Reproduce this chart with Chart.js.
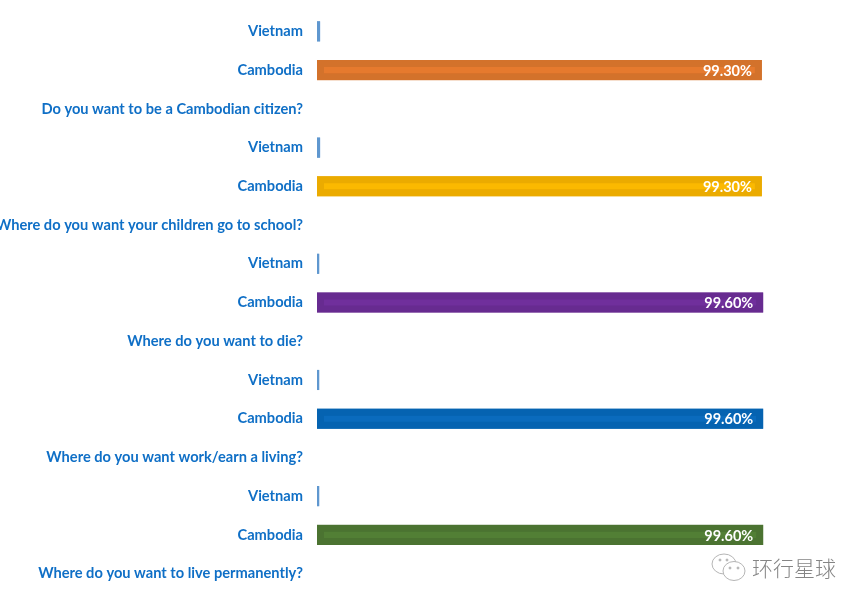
<!DOCTYPE html>
<html>
<head>
<meta charset="utf-8">
<script src="https://cdn.jsdelivr.net/npm/chart.js@4"></script>
<style>
    html, body { margin: 0; padding: 0; background: #fff; overflow: hidden; }
    #wrap { position: relative; width: 864px; height: 606px; }
    #mark { position: absolute; left: 752px; top: 555px; font: 300 21px "Noto Sans CJK SC"; line-height: 24px; color: #858585; }
    #wechat { position: absolute; left: 711px; top: 553px; }
</style>
</head>
<body>
<div id="wrap">
    <canvas id="bars" width="864" height="606"></canvas>
    <svg id="wechat" width="36" height="30" viewBox="0 0 36 30" fill="#fff" stroke="#b5b5b5" stroke-width="1">
        <ellipse cx="13" cy="11" rx="12" ry="10"/>
        <ellipse cx="23" cy="18" rx="11" ry="9.5"/>
        <circle cx="19" cy="15" r="1" fill="#b5b5b5"/>
        <circle cx="27" cy="15" r="1" fill="#b5b5b5"/>
        <circle cx="9" cy="7" r="1" fill="#b5b5b5"/>
        <circle cx="16" cy="7" r="1" fill="#b5b5b5"/>
    </svg>
    <div id="mark">环行星球</div>
</div>
<script>
const categories = [
    'Vietnam', 'Cambodia', 'Do you want to be a Cambodian citizen?',
    'Vietnam', 'Cambodia', 'Where do you want your children go to school?',
    'Vietnam', 'Cambodia', 'Where do you want to die?',
    'Vietnam', 'Cambodia', 'Where do you want work/earn a living?',
    'Vietnam', 'Cambodia', 'Where do you want to live permanently?'
];
const values = [0.7, 99.3, null, 0.7, 99.3, null, 0.5, 99.6, null, 0.5, 99.6, null, 0.5, 99.6, null];

const vietnamBlue = '#5f97cf';
const edgeColours = [vietnamBlue, '#d3722b', null, vietnamBlue, '#ebab00', null, vietnamBlue, '#672b90', null, vietnamBlue, '#0563b1', null, vietnamBlue, '#4b7331', null];
const fillColours = [vietnamBlue, '#e67a2e', null, vietnamBlue, '#fbb900', null, vietnamBlue, '#702f9c', null, vietnamBlue, '#0a6bbd', null, vietnamBlue, '#527f35', null];

// dark layer under each bar so no white shows between border and fill
const barUnderlay = {
    id: 'barUnderlay',
    beforeDatasetsDraw(chart) {
        const c = chart.ctx;
        chart.getDatasetMeta(0).data.forEach((bar, i) => {
            if (values[i] !== null) {
                c.fillStyle = edgeColours[i];
                c.fillRect(bar.base, bar.y - bar.height / 2, bar.x - bar.base, bar.height);
            }
        });
    }
};

// percentage text inside the big bars
const barLabels = {
    id: 'barLabels',
    afterDatasetsDraw(chart) {
        const c = chart.ctx;
        const meta = chart.getDatasetMeta(0);
        c.save();
        c.font = 'bold 14.5px Lato';
        c.fillStyle = '#fff';
        c.textAlign = 'right';
        c.textBaseline = 'middle';
        meta.data.forEach((bar, i) => {
            if (values[i] > 50) {
                c.fillText(values[i].toFixed(2) + '%', bar.x - 10, bar.y + 1);
            }
        });
        c.restore();
    }
};

new Chart(document.getElementById('bars').getContext('2d'), {
    type: 'bar',
    data: {
        labels: categories,
        datasets: [{
            data: values,
            backgroundColor: fillColours,
            borderColor: edgeColours,
            borderWidth: 7,
            borderSkipped: false,
            categoryPercentage: 0.52,
            barPercentage: 1
        }]
    },
    options: {
        indexAxis: 'y',
        responsive: false,
        animation: false,
        layout: { padding: { top: 12, right: 99, bottom: 13, left: 0 } },
        plugins: {
            legend: { display: false },
            tooltip: { enabled: false }
        },
        scales: {
            x: { display: false, min: 0, max: 100 },
            y: {
                grid: { display: false, drawTicks: false },
                border: { display: false },
                afterFit(scale) {
                    scale.width = 317;
                    scale.paddingTop = 0;
                    scale.paddingBottom = 0;
                },
                ticks: {
                    autoSkip: false,
                    padding: 14,
                    color: '#0f6fc6',
                    font: { family: 'Lato', size: 14.65, weight: 'bold' }
                }
            }
        }
    },
    plugins: [barUnderlay, barLabels]
});
</script>
</body>
</html>
